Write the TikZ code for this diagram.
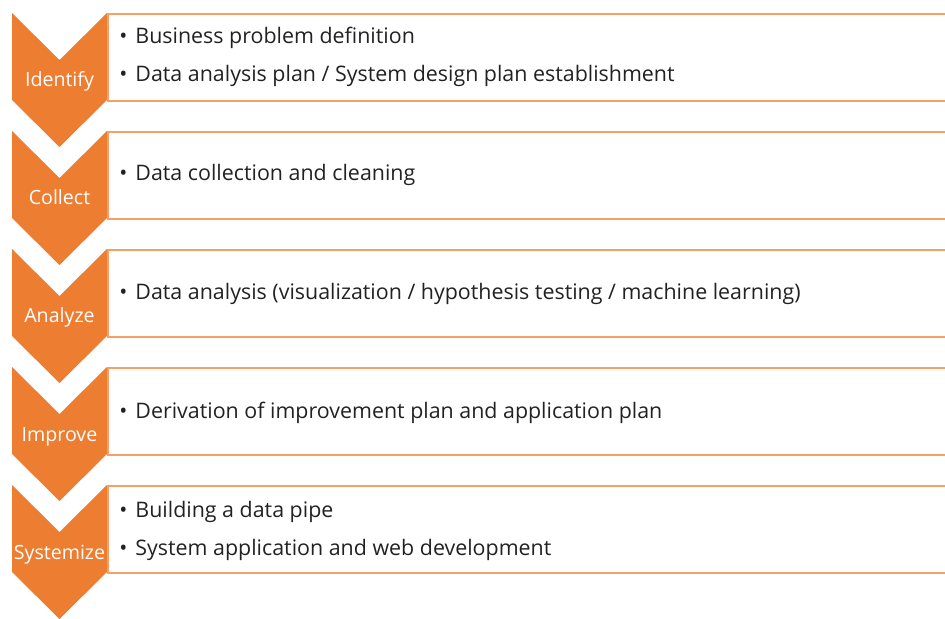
\documentclass[tikz,border=0pt]{standalone}
\usepackage{fontspec}
\setmainfont{Open Sans}
\usetikzlibrary{positioning}
\definecolor{stageorange}{HTML}{ED7D31}
\definecolor{bandorange}{HTML}{F4A066}
\definecolor{itemtext}{HTML}{222222}
\newcommand{\itembullet}{\textbullet\hspace{4pt}}

\begin{document}
\begin{tikzpicture}[x=0.5pt,y=-0.5pt,node distance=0pt]
  \tikzstyle{chevron}=[fill=stageorange,draw=none]
  \tikzstyle{band}=[draw=bandorange,line width=1.1pt,minimum width=430pt,minimum height=43.5pt,inner sep=0pt,anchor=north west]
  \tikzstyle{stage}=[text=white,font=\fontsize{9.8}{11}\selectfont,inner sep=0pt,anchor=base]
  \tikzstyle{item}=[text=itemtext,font=\fontsize{10.7}{12}\selectfont,anchor=base west,inner sep=0pt]
  \useasboundingbox (0,0) rectangle (945,619);
  % stages
  \fill[chevron] (12,13) -- (59.5,60) -- (107,13) -- (107,100) -- (59.5,147) -- (12,100) -- cycle;
  \fill[chevron] (12,131) -- (59.5,178) -- (107,131) -- (107,218) -- (59.5,265) -- (12,218) -- cycle;
  \fill[chevron] (12,249) -- (59.5,296) -- (107,249) -- (107,336) -- (59.5,383) -- (12,336) -- cycle;
  \fill[chevron] (12,367) -- (59.5,414) -- (107,367) -- (107,454) -- (59.5,501) -- (12,454) -- cycle;
  \fill[chevron] (12,485) -- (59.5,532) -- (107,485) -- (107,572) -- (59.5,619) -- (12,572) -- cycle;
  \node[stage] (identify) at (59.5,87) {Identify};
  \node[stage] (collect) at (59.5,205) {Collect};
  \node[stage] (analyze) at (59.5,323) {Analyze};
  \node[stage] (improve) at (59.5,441) {Improve};
  \node[stage] (systemize) at (59.5,559) {Systemize};
  % bands
  \node[band] (identifybox) at (107,13) {};
  \node[band] (collectbox) at (107,131) {};
  \node[band] (analyzebox) at (107,249) {};
  \node[band] (improvebox) at (107,367) {};
  \node[band] (systemizebox) at (107,485) {};
  \node[item] (problem) at (119,44) {\itembullet Business problem definition};
  \node[item] (plan) [below=19pt of problem.base west,anchor=base west] {\itembullet Data analysis plan / System design plan establishment};
  \node[item] (cleaning) at (119,181) {\itembullet Data collection and cleaning};
  \node[item] (analysis) at (119,300) {\itembullet Data analysis (visualization / hypothesis testing / machine learning)};
  \node[item] (derivation) at (119,418) {\itembullet Derivation of improvement plan and application plan};
  \node[item] (pipe) at (119,517) {\itembullet Building a data pipe};
  \node[item] (webdev) [below=19pt of pipe.base west,anchor=base west] {\itembullet System application and web development};
\end{tikzpicture}
\end{document}
